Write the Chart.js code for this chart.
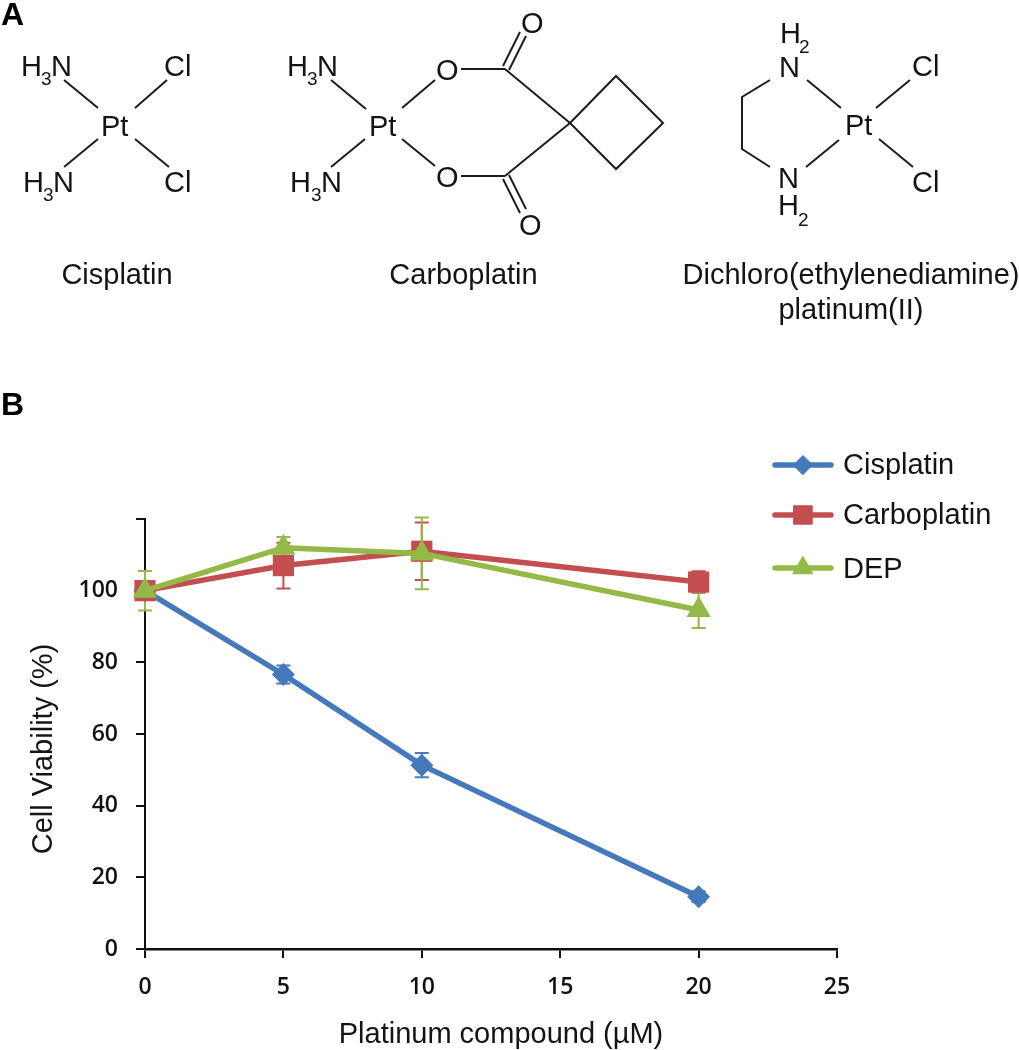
<!DOCTYPE html>
<html>
<head>
<meta charset="utf-8">
<script src="https://cdn.jsdelivr.net/npm/chart.js@4/dist/chart.umd.min.js"></script>
<style>
  html, body { margin: 0; padding: 0; background: #fff; }
  #wrap { position: relative; width: 1019px; height: 1050px; overflow: hidden; }
  canvas { position: absolute; left: 0; top: 0; }
  svg { position: absolute; left: 0; top: 0; }
  svg text { font-family: "Liberation Sans", Arial, sans-serif; font-size: 29px; fill: #141414; }
  svg text.sub { font-size: 19px; }
  svg text.panel { font-size: 32px; font-weight: bold; fill: #000; }
  svg line, svg polyline, svg polygon { stroke: #1c1c1c; stroke-width: 2; fill: none; }
</style>
</head>
<body>
<div id="wrap">
  <canvas id="chart" width="1019" height="1050"></canvas>
  <svg width="1019" height="1050">
    <text class="panel" x="1" y="25">A</text>
    <text class="panel" x="1" y="415">B</text>

    <!-- cisplatin -->
    <text x="21" y="76">H</text><text class="sub" x="41" y="85">3</text><text x="51" y="76">N</text>
    <text x="164" y="76">Cl</text>
    <text x="101" y="136">Pt</text>
    <text x="23" y="192">H</text><text class="sub" x="43" y="201">3</text><text x="53" y="192">N</text>
    <text x="164" y="192">Cl</text>
    <line x1="64" y1="80" x2="98" y2="108"/>
    <line x1="167" y1="80" x2="135" y2="108"/>
    <line x1="64" y1="167" x2="98" y2="139"/>
    <line x1="169" y1="167" x2="135" y2="139"/>
    <text x="117" y="284" text-anchor="middle">Cisplatin</text>

    <!-- carboplatin -->
    <text x="287" y="76">H</text><text class="sub" x="307" y="85">3</text><text x="317" y="76">N</text>
    <text x="290" y="192">H</text><text class="sub" x="311" y="201">3</text><text x="321" y="192">N</text>
    <text x="369" y="136">Pt</text>
    <text x="436" y="80">O</text>
    <text x="436" y="187">O</text>
    <text x="521" y="33">O</text>
    <text x="519" y="235">O</text>
    <line x1="331" y1="80" x2="366" y2="109"/>
    <line x1="331" y1="167" x2="365" y2="139"/>
    <line x1="402" y1="108" x2="435" y2="80"/>
    <line x1="402" y1="139" x2="435" y2="166"/>
    <line x1="461" y1="69" x2="505" y2="69"/>
    <line x1="461" y1="176" x2="505" y2="176"/>
    <line x1="505" y1="69" x2="570" y2="123"/>
    <line x1="505" y1="176" x2="570" y2="123"/>
    <line x1="503" y1="66" x2="520" y2="32"/>
    <line x1="509" y1="70" x2="526" y2="36"/>
    <line x1="503" y1="179" x2="520" y2="213"/>
    <line x1="509" y1="175" x2="526" y2="209"/>
    <polygon points="570,123 616,76 663,123 616,169"/>
    <text x="463.5" y="284" text-anchor="middle">Carboplatin</text>

    <!-- dichloro(ethylenediamine)platinum(II) -->
    <text x="780" y="43">H</text><text class="sub" x="799" y="53">2</text>
    <text x="779" y="77">N</text>
    <text x="778" y="188">N</text>
    <text x="778" y="215">H</text><text class="sub" x="798" y="226">2</text>
    <text x="845" y="135">Pt</text>
    <text x="912" y="76">Cl</text>
    <text x="912" y="192">Cl</text>
    <polyline points="770,80 742,97 742,149 770,167"/>
    <line x1="807" y1="80" x2="841" y2="108"/>
    <line x1="806" y1="167" x2="839" y2="140"/>
    <line x1="876" y1="108" x2="910" y2="80"/>
    <line x1="879" y1="139" x2="913" y2="167"/>
    <text x="851" y="284" text-anchor="middle">Dichloro(ethylenediamine)</text>
    <text x="851" y="319" text-anchor="middle">platinum(II)</text>
  </svg>
</div>
<script>
const doses = [0, 5, 10, 20];
const seriesNames = ['Cisplatin', 'Carboplatin', 'DEP'];

const cisplatin = [100, 76.6, 51.3, 14.6];
const carboplatin = [100, 107, 111, 102.4];
const dep = [100, 112, 110.4, 94.6];

const cisplatinErr = [1, 2.5, 3.4, 1.5];
const carboplatinErr = [1, 6.4, 8, 3];
const depErr = [5.5, 3, 10, 5];

const yTicksHidden = [120];
const xTitle = 'Platinum compound (µM)';
const yTitle = 'Cell Viability (%)';

const colors = ['#4579bc', '#c34d4f', '#93b947'];
const tickFont = { family: '"Open Sans"', size: 23, weight: '600' };
const textFont = '29px "Liberation Sans"';

function toPoints(values) {
  return values.map((v, i) => ({ x: doses[i], y: v }));
}

// error bars go under all the lines, same colour as the series
const errorBars = {
  id: 'errorBars',
  beforeDatasetsDraw(chart) {
    const { ctx, scales: { x, y } } = chart;
    [cisplatinErr, carboplatinErr, depErr].forEach((errs, s) => {
      const values = chart.data.datasets[s].data;
      ctx.save();
      ctx.strokeStyle = colors[s];
      ctx.lineWidth = 2;
      errs.forEach((e, i) => {
        const px = x.getPixelForValue(values[i].x);
        const top = y.getPixelForValue(values[i].y + e);
        const bot = y.getPixelForValue(values[i].y - e);
        ctx.beginPath();
        ctx.moveTo(px, top);
        ctx.lineTo(px, bot);
        ctx.moveTo(px - 7, top);
        ctx.lineTo(px + 7, top);
        ctx.moveTo(px - 7, bot);
        ctx.lineTo(px + 7, bot);
        ctx.stroke();
      });
      ctx.restore();
    });
  }
};

// legend and axis titles sit off-centre in the original, so placed by hand
const sideLegend = {
  id: 'sideLegend',
  afterDraw(chart) {
    const { ctx } = chart;
    const rows = [
      { lineY: 465, textY: 474, radius: 9.5 },
      { lineY: 515, textY: 524, radius: 13 },
      { lineY: 568, textY: 578, radius: 11.5 }
    ];
    ctx.save();
    chart.data.datasets.forEach((ds, i) => {
      const r = rows[i];
      ctx.strokeStyle = ds.borderColor;
      ctx.lineWidth = 5.5;
      ctx.lineCap = 'round';
      ctx.beginPath();
      ctx.moveTo(775, r.lineY);
      ctx.lineTo(831, r.lineY);
      ctx.stroke();
      ctx.fillStyle = ds.borderColor;
      ctx.strokeStyle = ds.borderColor;
      ctx.lineWidth = 1;
      Chart.helpers.drawPoint(ctx, { pointStyle: ds.pointStyle, radius: r.radius, rotation: 0, borderWidth: 1 }, 803, r.lineY);
      ctx.fillStyle = '#141414';
      ctx.font = textFont;
      ctx.fillText(ds.label, 843, r.textY);
    });
    ctx.fillStyle = '#141414';
    ctx.font = textFont;
    ctx.textAlign = 'center';
    ctx.fillText(xTitle, 501, 1043);
    ctx.translate(52, 749);
    ctx.rotate(-Math.PI / 2);
    ctx.fillText(yTitle, 0, 0);
    ctx.restore();
  }
};

new Chart(document.getElementById('chart'), {
  type: 'line',
  data: {
    datasets: [
      { label: seriesNames[0], data: toPoints(cisplatin), borderColor: colors[0], backgroundColor: colors[0], pointStyle: 'rectRot', pointRadius: 11.5, order: 3 },
      { label: seriesNames[1], data: toPoints(carboplatin), borderColor: colors[1], backgroundColor: colors[1], pointStyle: 'rect', pointRadius: 15, order: 2 },
      { label: seriesNames[2], data: toPoints(dep), borderColor: colors[2], backgroundColor: colors[2], pointStyle: 'triangle', pointRadius: 14, order: 1 }
    ]
  },
  options: {
    responsive: false,
    animation: false,
    clip: false,
    elements: { line: { borderWidth: 5.5, tension: 0 }, point: { borderWidth: 0 } },
    layout: { padding: { top: 519, right: 182, left: 0, bottom: 0 } },
    plugins: { legend: { display: false }, tooltip: { enabled: false } },
    scales: {
      x: {
        type: 'linear',
        min: 0,
        max: 25,
        afterFit(scale) { scale.height = 101; },
        border: { color: '#111', width: 2.5 },
        grid: { drawOnChartArea: false, color: '#111', lineWidth: 2, tickLength: 9 },
        ticks: { stepSize: 5, padding: 16, color: '#111', font: tickFont, maxRotation: 0 }
      },
      y: {
        min: 0,
        max: 120,
        afterFit(scale) { scale.width = 145; },
        border: { color: '#111', width: 2 },
        grid: { drawOnChartArea: false, color: '#111', lineWidth: 2, tickLength: 9 },
        ticks: {
          stepSize: 20,
          padding: 18,
          color: '#111',
          font: tickFont,
          callback: (v) => (yTicksHidden.includes(v) ? '' : v)
        }
      }
    }
  },
  plugins: [errorBars, sideLegend]
});
</script>
</body>
</html>
